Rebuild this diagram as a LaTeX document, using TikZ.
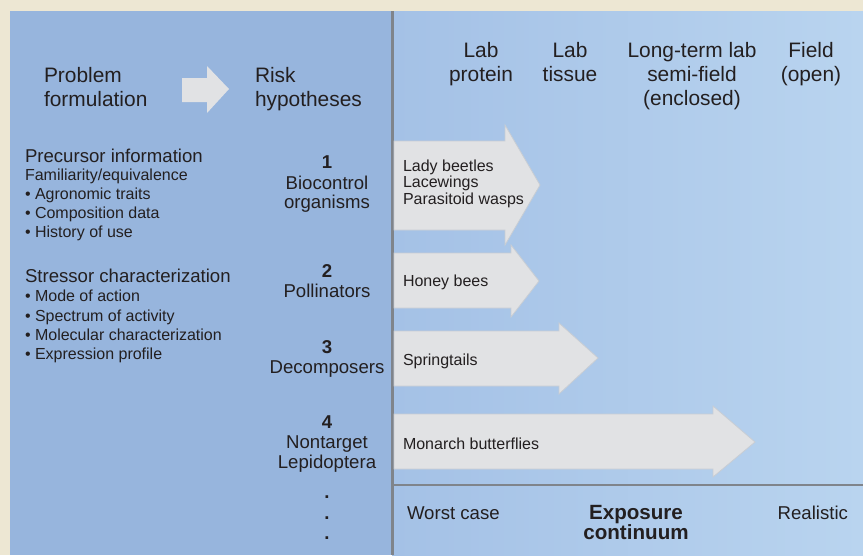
\documentclass[tikz,border=0pt]{standalone}
\usepackage{fontspec}
\setmainfont{Liberation Sans}
\definecolor{cream}{HTML}{EDE7D3}
\definecolor{leftblue}{HTML}{97B5DD}
\definecolor{rblueL}{HTML}{A4C1E6}
\definecolor{rblueR}{HTML}{B9D4EF}
\definecolor{arrowfill}{HTML}{E1E2E4}
\definecolor{arrowline}{HTML}{C8CDD4}
\definecolor{divider}{HTML}{7F848B}
\definecolor{txt}{HTML}{231F20}
\newcommand{\fsHead}{\fontsize{20.9}{24}\selectfont}
\newcommand{\fsMid}{\fontsize{18.6}{22}\selectfont}
\newcommand{\fsSmall}{\fontsize{16}{19}\selectfont}
\begin{document}
\begin{tikzpicture}[x=1pt,y=-1pt,
  lbl/.style={inner sep=0pt, outer sep=0pt, text=txt},
  hd/.style={lbl, font=\fsHead},
  mid/.style={lbl, font=\fsMid},
  sml/.style={lbl, font=\fsSmall},
  num/.style={lbl, font=\fsMid\bfseries},
  bigarrow/.style={fill=arrowfill, draw=arrowline, line width=0.8pt},
  smallarrow/.style={fill=arrowfill}]
\useasboundingbox (0,0) rectangle (863,555);
% backgrounds
\fill[cream] (0,0) rectangle (863,555);
\fill[leftblue] (10,11) rectangle (392,555);
\shade[left color=rblueL, right color=rblueR] (392,11) rectangle (863,555);
% dividers
\draw[divider, line width=3pt] (392.5,11) -- (392.5,555);
\draw[divider, line width=2pt] (394,484.5) -- (863,484.5);
% small arrow
\path[smallarrow] (182,78) -- (207,78) -- (207,66) -- (229,89) -- (207,113) -- (207,102) -- (182,102) -- cycle;
% big arrows
\path[bigarrow] (394,141) -- (505,141) -- (505,125) -- (540,185) -- (505,245) -- (505,230) -- (394,230) -- cycle;
\path[bigarrow] (394,253) -- (511,253) -- (511,245) -- (539,281) -- (511,317) -- (511,308) -- (394,308) -- cycle;
\path[bigarrow] (394,331) -- (559,331) -- (559,323) -- (598,358) -- (559,394) -- (559,386) -- (394,386) -- cycle;
\path[bigarrow] (394,414) -- (713,414) -- (713,406) -- (755,442) -- (713,477) -- (713,469) -- (394,469) -- cycle;
% headers
\node[hd, anchor=base west] (pf1) at (44,82) {Problem};
\node[hd, anchor=base west] (pf2) at (44,106) {formulation};
\node[hd, anchor=base west] (rh1) at (255,82) {Risk};
\node[hd, anchor=base west] (rh2) at (255,106) {hypotheses};
\node[hd, anchor=base] (c1a) at (481,57) {Lab};
\node[hd, anchor=base] (c1b) at (481,81) {protein};
\node[hd, anchor=base] (c2a) at (570,57) {Lab};
\node[hd, anchor=base] (c2b) at (570,81) {tissue};
\node[hd, anchor=base] (c3a) at (692,57) {Long-term lab};
\node[hd, anchor=base] (c3b) at (692,81) {semi-field};
\node[hd, anchor=base] (c3c) at (692,105) {(enclosed)};
\node[hd, anchor=base] (c4a) at (811,57) {Field};
\node[hd, anchor=base] (c4b) at (811,81) {(open)};
% left column
\node[mid, anchor=base west] (pi) at (25,162) {Precursor information};
\node[sml, anchor=base west] (pi1) at (25,180) {Familiarity/equivalence};
\node[sml, anchor=base west] (pi2) at (25,199) {• Agronomic traits};
\node[sml, anchor=base west] (pi3) at (25,218) {• Composition data};
\node[sml, anchor=base west] (pi4) at (25,237) {• History of use};
\node[mid, anchor=base west] (sc) at (25,282) {Stressor characterization};
\node[sml, anchor=base west] (sc1) at (25,301) {• Mode of action};
\node[sml, anchor=base west] (sc2) at (25,321) {• Spectrum of activity};
\node[sml, anchor=base west] (sc3) at (25,340) {• Molecular characterization};
\node[sml, anchor=base west] (sc4) at (25,359) {• Expression profile};
% risk hypotheses
\node[num, anchor=base] (n1) at (327,168) {1};
\node[mid, anchor=base] (h1a) at (327,189) {Biocontrol};
\node[mid, anchor=base] (h1b) at (327,208) {organisms};
\node[num, anchor=base] (n2) at (327,277) {2};
\node[mid, anchor=base] (h2) at (327,297) {Pollinators};
\node[num, anchor=base] (n3) at (327,353) {3};
\node[mid, anchor=base] (h3) at (327,373) {Decomposers};
\node[num, anchor=base] (n4) at (327,428) {4};
\node[mid, anchor=base] (h4a) at (327,448) {Nontarget};
\node[mid, anchor=base] (h4b) at (327,468) {Lepidoptera};
\node[num, anchor=base] (d1) at (327,498) {.};
\node[num, anchor=base] (d2) at (327,519) {.};
\node[num, anchor=base] (d3) at (327,539) {.};
% arrow labels
\node[sml, anchor=base west] (a1a) at (403,171) {Lady beetles};
\node[sml, anchor=base west] (a1b) at (403,187) {Lacewings};
\node[sml, anchor=base west] (a1c) at (403,204) {Parasitoid wasps};
\node[sml, anchor=base west] (a2) at (403,286) {Honey bees};
\node[sml, anchor=base west] (a3) at (403,365) {Springtails};
\node[sml, anchor=base west] (a4) at (403,449) {Monarch butterflies};
% exposure continuum
\node[mid, anchor=base west] (wc) at (407,519) {Worst case};
\node[lbl, font=\fontsize{20.6}{24}\selectfont\bfseries, anchor=base] (ex1) at (636,519) {Exposure};
\node[lbl, font=\fontsize{20.6}{24}\selectfont\bfseries, anchor=base] (ex2) at (636,539) {continuum};
\node[mid, anchor=base east] (re) at (848,519) {Realistic};
\end{tikzpicture}
\end{document}
